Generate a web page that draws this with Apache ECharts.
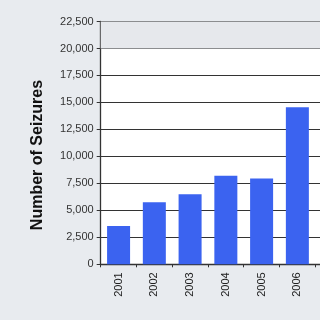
<!DOCTYPE html>
<html><head><meta charset="utf-8">
<style>html,body{margin:0;padding:0;background:#e8ebef;overflow:hidden;width:320px;height:320px;}#c{width:351px;height:320px;}</style>
<script src="https://cdn.jsdelivr.net/npm/echarts@6/dist/echarts.min.js"></script>
</head><body><div id="c"></div>
<script>
var years = ['2001','2002','2003','2004','2005','2006',''];
var seizures = [3550, 5750, 6500, 8200, 7950, 14550, '-'];
var yTicks = [0, 2500, 5000, 7500, 10000, 12500, 15000, 17500, 20000, 22500];
var axisTitle = 'Number of Seizures';

var chart = echarts.init(document.getElementById('c'), null, {renderer:'canvas'});
chart.setOption({
  backgroundColor: '#e8ebef',
  animation: false,
  grid: {left: 100.7, top: 21.5, right: 0, bottom: 55.7, show: true, backgroundColor: '#ffffff', borderWidth: 0},
  xAxis: {
    type: 'category', data: years,
    axisLine: {lineStyle: {color: '#333', width: 1.3}},
    axisTick: {show: true, length: 3, lineStyle: {color: '#333'}},
    axisLabel: {rotate: 90, fontSize: 11, color: '#222', fontFamily: 'Liberation Sans', margin: 8}
  },
  yAxis: {
    type: 'value', min: yTicks[0], max: yTicks[yTicks.length-1], interval: 2500,
    axisLine: {show: true, lineStyle: {color: '#333', width: 1.3}},
    axisTick: {show: true, length: 4, lineStyle: {color: '#333'}},
    splitLine: {lineStyle: {color: '#333', width: 1}},
    axisLabel: {fontSize: 11, color: '#333', fontFamily: 'Liberation Sans', margin: 7,
      formatter: function(v){ return v.toLocaleString('en-US'); }}
  },
  graphic: [{
    type: 'text', x: 38, y: 155, rotation: Math.PI/2,
    style: {text: axisTitle, font: 'bold 16px "Liberation Sans"', fill: '#111', textAlign: 'center', textVerticalAlign: 'middle'}
  }],
  series: [{
    type: 'bar', data: seizures, barWidth: 23,
    itemStyle: {color: '#3b63f0'},
    markArea: {silent: true, itemStyle: {color: '#e6e8ec'}, data: [[{yAxis: 20000}, {yAxis: 22500}]]}
  }]
});
</script></body></html>
